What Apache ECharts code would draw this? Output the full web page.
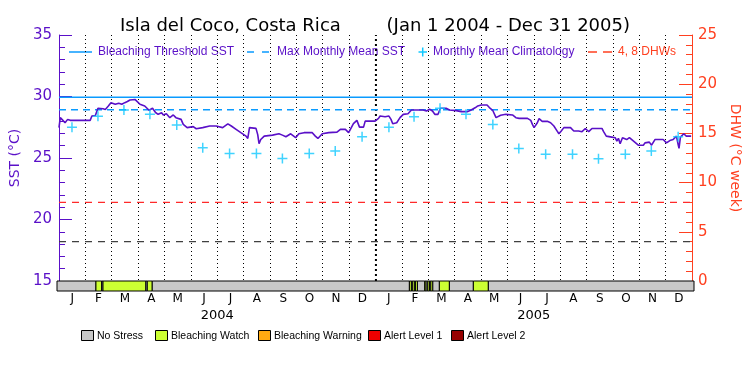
<!DOCTYPE html>
<html><head><meta charset="utf-8">
<script src="https://cdn.jsdelivr.net/npm/echarts@6/dist/echarts.min.js"></script>
<style>html,body{margin:0;padding:0;background:#fff}#c{width:750px;height:375px}</style>
</head><body><div id="c"></div>
<script>
// ---- data ----
const monthLabels = ['J','F','M','A','M','J','J','A','S','O','N','D','J','F','M','A','M','J','J','A','S','O','N','D'];
const yearLabels = ['2004','2005'];
const sstTicks = [15, 20, 25, 30, 35];
const dhwTicks = [0, 5, 10, 15, 20, 25];
// SST: day offset from 2004-01-01, value (°C)
const sstDay = [0,1.5,4,7,10,13,36,38,42,45,51,53.5,57,60,65,69,72.5,76,79,82,88,90,93.5,99,104,108,111.5,114.5,118.5,120.5,124,128,132,135,141,143.5,148,155,158.5,166,174,181.5,189,195,197,199,204.5,210,216,218,220,227.5,229.5,231,233,237,246.6,254,258,262,267.6,273.3,277,283,292.5,296,299,304,311.5,321,325,330.7,334.5,336.4,340,344,347,351.7,353.6,365,369,370.8,376.6,381,383.4,385.4,390,393.8,397.6,403,407,414.8,416.7,420.5,424.4,428,431.3,434,437.7,440.4,447,451,458.8,464.5,472,476,481,483.6,487.5,494.3,497,500.8,504.7,507,510,516,523.7,527.6,531.4,541,544.8,546.7,548.6,550.6,552.4,554.4,558,563.9,567.7,571.5,575.3,577.3,580,583,590.7,594.5,600,604,607.8,611.7,615.5,627,628.9,632,638.4,642.3,644.2,646,648,650.7,655.6,658.7,663.5,669,674.8,676.7,678.6,681.7,684.3,688.2,697.7,701.5,705.4,709.2,713,715,716,717.6,721.5,724.4,730];
const sstVal = [27.47,28.28,28.1,27.87,28.14,28.06,28.06,28.41,28.45,29.04,29.0,28.95,29.23,29.5,29.37,29.45,29.37,29.5,29.59,29.72,29.75,29.65,29.37,29.23,28.88,29.04,28.7,28.55,28.68,28.5,28.6,28.28,28.5,28.28,28.14,27.73,27.47,27.55,27.38,27.47,27.6,27.6,27.47,27.78,27.87,27.6,27.33,27.06,26.78,26.59,27.47,27.41,26.9,26.16,26.5,26.78,26.86,26.97,26.86,26.73,26.97,26.65,26.97,27.06,27.06,26.78,26.59,26.97,27.06,27.1,27.33,27.33,27.06,27.2,27.79,28.06,27.51,27.51,28.0,28.0,28.22,28.41,28.35,28.41,28.14,27.79,27.87,28.28,28.55,28.6,28.9,28.9,28.82,28.9,28.82,28.96,28.82,28.55,28.55,29.04,29.04,28.9,28.85,28.77,28.77,28.9,29.1,29.23,29.31,29.31,29.1,28.88,28.28,28.28,28.47,28.55,28.5,28.28,28.22,28.22,28.06,27.73,27.47,27.38,27.87,28.2,27.98,27.98,27.87,27.6,27.19,26.97,27.2,27.47,27.47,27.2,27.2,27.14,27.4,27.14,27.4,27.4,27.14,26.78,26.7,26.65,26.37,26.6,26.16,26.65,26.5,26.65,26.37,26.04,26.04,26.23,26.1,26.29,26.04,26.5,26.5,26.23,26.42,26.5,26.78,26.1,25.78,26.7,26.97,26.78,26.78];
const climDates = ['2004-01-16','2004-02-15','2004-03-16','2004-04-15','2004-05-16','2004-06-15','2004-07-16','2004-08-16','2004-09-15','2004-10-16','2004-11-15','2004-12-16',
                   '2005-01-16','2005-02-14','2005-03-16','2005-04-15','2005-05-16','2005-06-15','2005-07-16','2005-08-16','2005-09-15','2005-10-16','2005-11-15','2005-12-16'];
const climVal = [27.51,28.39,28.9,28.55,27.68,25.83,25.37,25.37,24.96,25.37,25.56,26.73,
                 27.51,28.36,29.04,28.55,27.73,25.78,25.31,25.31,24.93,25.31,25.56,26.73];
const thresholdSST = 29.93;
const maxMonthlyMean = 28.93;
const dhwLevels = [4, 8];
const yearBoundary = '2005-01-01';
// alert status periods: start day, end day, level (0 no stress, 1 watch, 2 warning, 3 alert1, 4 alert2)
const alertStart = [0,44.7,51.2,52.8,102,103.6,109.3,404.4,406.7,408.3,410.6,411.3,413.6,422,423.6,425.5,427.4,429,431.3,438.8,450.3,477.8,495];
const alertEnd   = [44.7,51.2,52.8,102,103.6,109.3,404.4,406.7,408.3,410.6,411.3,413.6,422,423.6,425.5,427.4,429,431.3,438.8,450.3,477.8,495,731];
const alertLevel = [0,1,0,1,0,1,0,1,0,1,0,1,0,1,0,1,0,1,0,1,0,1,0];
const alertNames = ['No Stress','Bleaching Watch','Bleaching Warning','Alert Level 1','Alert Level 2'];
const alertColors = ['#c8c8c8','#ccff33','#ffaa11','#ee0000','#960000'];

// ---- styles ----
const purple = '#5a10c8';
const orange = '#ff4020';
const blue = '#0a9bff';
const cyan = '#10c8ff';
const T0 = Date.UTC(2004,0,1), T1 = Date.UTC(2006,0,1), DAY = 86400000;
const ts = s => Date.parse(s + 'T00:00:00Z');
const dayTs = d => T0 + d * DAY;

const splitColors = monthLabels.map(() => '#000').concat(['#000']);
splitColors[0] = 'rgba(0,0,0,0)'; splitColors[12] = 'rgba(0,0,0,0)'; splitColors[24] = 'rgba(0,0,0,0)';

const plusPath = 'path://M4.25,0H5.75V4.25H10V5.75H5.75V10H4.25V5.75H0V4.25H4.25Z';
const F = 'DejaVu Sans';
const LF = 'Liberation Sans';

const chart = echarts.init(document.getElementById('c'), null, {renderer: 'canvas'});
const legendY = 52;
const botLegendX = [81, 155, 258, 368, 451];
const graphics = [
  {type:'line', shape:{x1:69,y1:legendY,x2:92,y2:legendY}, style:{stroke:blue, lineWidth:1.5}},
  {type:'text', x:98, y:legendY, style:{text:'Bleaching Threshold SST', fill:purple, font:'12px "'+LF+'"', verticalAlign:'middle'}},
  {type:'line', shape:{x1:247,y1:legendY,x2:269,y2:legendY}, style:{stroke:blue, lineWidth:1.5, lineDash:[7,8]}},
  {type:'text', x:277, y:legendY, style:{text:'Max Monthly Mean SST', fill:purple, font:'12px "'+LF+'"', verticalAlign:'middle'}},
  {type:'line', shape:{x1:418.5,y1:legendY,x2:427,y2:legendY}, style:{stroke:cyan, lineWidth:1.5}},
  {type:'line', shape:{x1:422.7,y1:legendY-4.5,x2:422.7,y2:legendY+4.5}, style:{stroke:cyan, lineWidth:1.5}},
  {type:'text', x:433, y:legendY, style:{text:'Monthly Mean Climatology', fill:purple, font:'12px "'+LF+'"', verticalAlign:'middle'}},
  {type:'line', shape:{x1:588,y1:legendY,x2:612,y2:legendY}, style:{stroke:orange, lineWidth:1.5, lineDash:[9,6]}},
  {type:'text', x:618, y:legendY, style:{text:'4, 8 DHWs', fill:orange, font:'12px "'+LF+'"', verticalAlign:'middle'}}
];
alertNames.forEach((n, i) => {
  graphics.push({type:'rect', shape:{x:botLegendX[i]+0.5, y:330.5, width:12, height:10}, style:{fill:alertColors[i], stroke:'#000', lineWidth:1}});
  graphics.push({type:'text', x:botLegendX[i]+16, y:336, style:{text:n, fill:'#000', font:'10.5px "'+LF+'"', verticalAlign:'middle'}});
});

const option = {
  animation: false,
  backgroundColor: '#fff',
  title: {
    text: 'Isla del Coco, Costa Rica        (Jan 1 2004 - Dec 31 2005)',
    left: 'center', top: 12,
    textStyle: {color:'#000', fontSize:18, fontWeight:'normal', fontFamily:F}
  },
  grid: [
    {left:57, right:56, top:35, height:246},
    {left:57, right:56, top:281, height:10}
  ],
  xAxis: [
    {type:'time', gridIndex:0, position:'top', min:T0, max:T1,
     axisLine:{show:true, lineStyle:{color:'#000', width:1}}, axisTick:{show:false}, axisLabel:{show:false}, splitLine:{show:false}},
    {type:'category', gridIndex:0, position:'bottom', data:monthLabels, boundaryGap:true,
     axisLine:{show:false}, axisTick:{show:false},
     axisLabel:{interval:0, margin:12, color:'#000', fontSize:12, fontFamily:F},
     splitLine:{show:true, interval:0, lineStyle:{color:splitColors, width:1, type:[1,3]}}},
    {type:'category', gridIndex:0, position:'bottom', data:yearLabels, boundaryGap:true,
     axisLine:{show:false}, axisTick:{show:false},
     axisLabel:{interval:0, margin:28, color:'#000', fontSize:13, fontFamily:F}, splitLine:{show:false}},
    {type:'time', gridIndex:1, min:T0, max:T1, show:false}
  ],
  yAxis: [
    {type:'value', gridIndex:0, position:'left', min:sstTicks[0], max:sstTicks[sstTicks.length-1], interval:5,
     axisLine:{show:true, lineStyle:{color:purple, width:1}},
     axisTick:{show:true, inside:true, length:13, lineStyle:{color:purple}},
     minorTick:{show:true, splitNumber:5, length:6, lineStyle:{color:purple}},
     axisLabel:{color:purple, fontSize:15, fontFamily:F, margin:7},
     splitLine:{show:false},
     name:'SST (°C)', nameLocation:'middle', nameGap:32,
     nameTextStyle:{color:purple, fontSize:14, fontFamily:F}},
    {type:'value', gridIndex:0, position:'right', min:dhwTicks[0], max:dhwTicks[dhwTicks.length-1], interval:5,
     axisLine:{show:true, lineStyle:{color:orange, width:1}},
     axisTick:{show:true, inside:true, length:13, lineStyle:{color:orange}},
     minorTick:{show:true, splitNumber:5, length:6, lineStyle:{color:orange}},
     axisLabel:{color:orange, fontSize:15, fontFamily:F, margin:6},
     splitLine:{show:false},
     name:'DHW (°C week)', nameLocation:'middle', nameGap:29, nameRotate:-90,
     nameTextStyle:{color:orange, fontSize:14, fontFamily:F}},
    {type:'value', gridIndex:1, min:0, max:1, show:false}
  ],
  series: [
    {name:'Bleaching Threshold SST', type:'line', xAxisIndex:0, yAxisIndex:0, showSymbol:false, silent:true,
     data:[[T0, thresholdSST],[T1, thresholdSST]], lineStyle:{color:blue, width:1.5}, z:2},
    {name:'Max Monthly Mean SST', type:'line', xAxisIndex:0, yAxisIndex:0, showSymbol:false, silent:true,
     data:[[T0, maxMonthlyMean],[T1, maxMonthlyMean]], lineStyle:{color:blue, width:1.5, type:[7,5]}, z:2},
    {name:'8 DHW', type:'line', xAxisIndex:0, yAxisIndex:1, showSymbol:false, silent:true,
     data:[[T0, dhwLevels[1]],[T1, dhwLevels[1]]], lineStyle:{color:'#ff2a2a', width:1.2, type:[7,6]}, z:2},
    {name:'4 DHW', type:'line', xAxisIndex:0, yAxisIndex:1, showSymbol:false, silent:true,
     data:[[T0, dhwLevels[0]],[T1, dhwLevels[0]]], lineStyle:{color:'#404040', width:1.2, type:[7,6]}, z:2},
    {name:'year', type:'line', xAxisIndex:0, yAxisIndex:0, showSymbol:false, silent:true,
     data:[[ts(yearBoundary), sstTicks[0]],[ts(yearBoundary), sstTicks[sstTicks.length-1]]],
     lineStyle:{color:'#000', width:2, type:[2,3]}, z:1},
    {name:'SST', type:'line', xAxisIndex:0, yAxisIndex:0, showSymbol:false, silent:true,
     data: sstDay.map((d, i) => [dayTs(d), sstVal[i]]), lineStyle:{color:purple, width:1.6}, z:3},
    {name:'Monthly Mean Climatology', type:'scatter', xAxisIndex:0, yAxisIndex:0, silent:true,
     symbol:plusPath, symbolSize:10, itemStyle:{color:cyan},
     data: climDates.map((d, i) => [ts(d), climVal[i]]), z:4},
    {name:'alert', type:'custom', xAxisIndex:3, yAxisIndex:2, silent:true,
     data: alertStart.map((s, i) => [dayTs(s), dayTs(alertEnd[i]), alertLevel[i]]),
     encode:{x:[0,1]},
     renderItem: (params, api) => {
       const a = api.coord([api.value(0), 0]);
       const b = api.coord([api.value(1), 1]);
       return {type:'rect', shape:{x:a[0], y:b[1], width:b[0]-a[0], height:a[1]-b[1]},
               style:{fill:alertColors[api.value(2)], stroke:'#000', lineWidth:1}};
     }}
  ],
  graphic: graphics
};
chart.setOption(option);
</script></body></html>
